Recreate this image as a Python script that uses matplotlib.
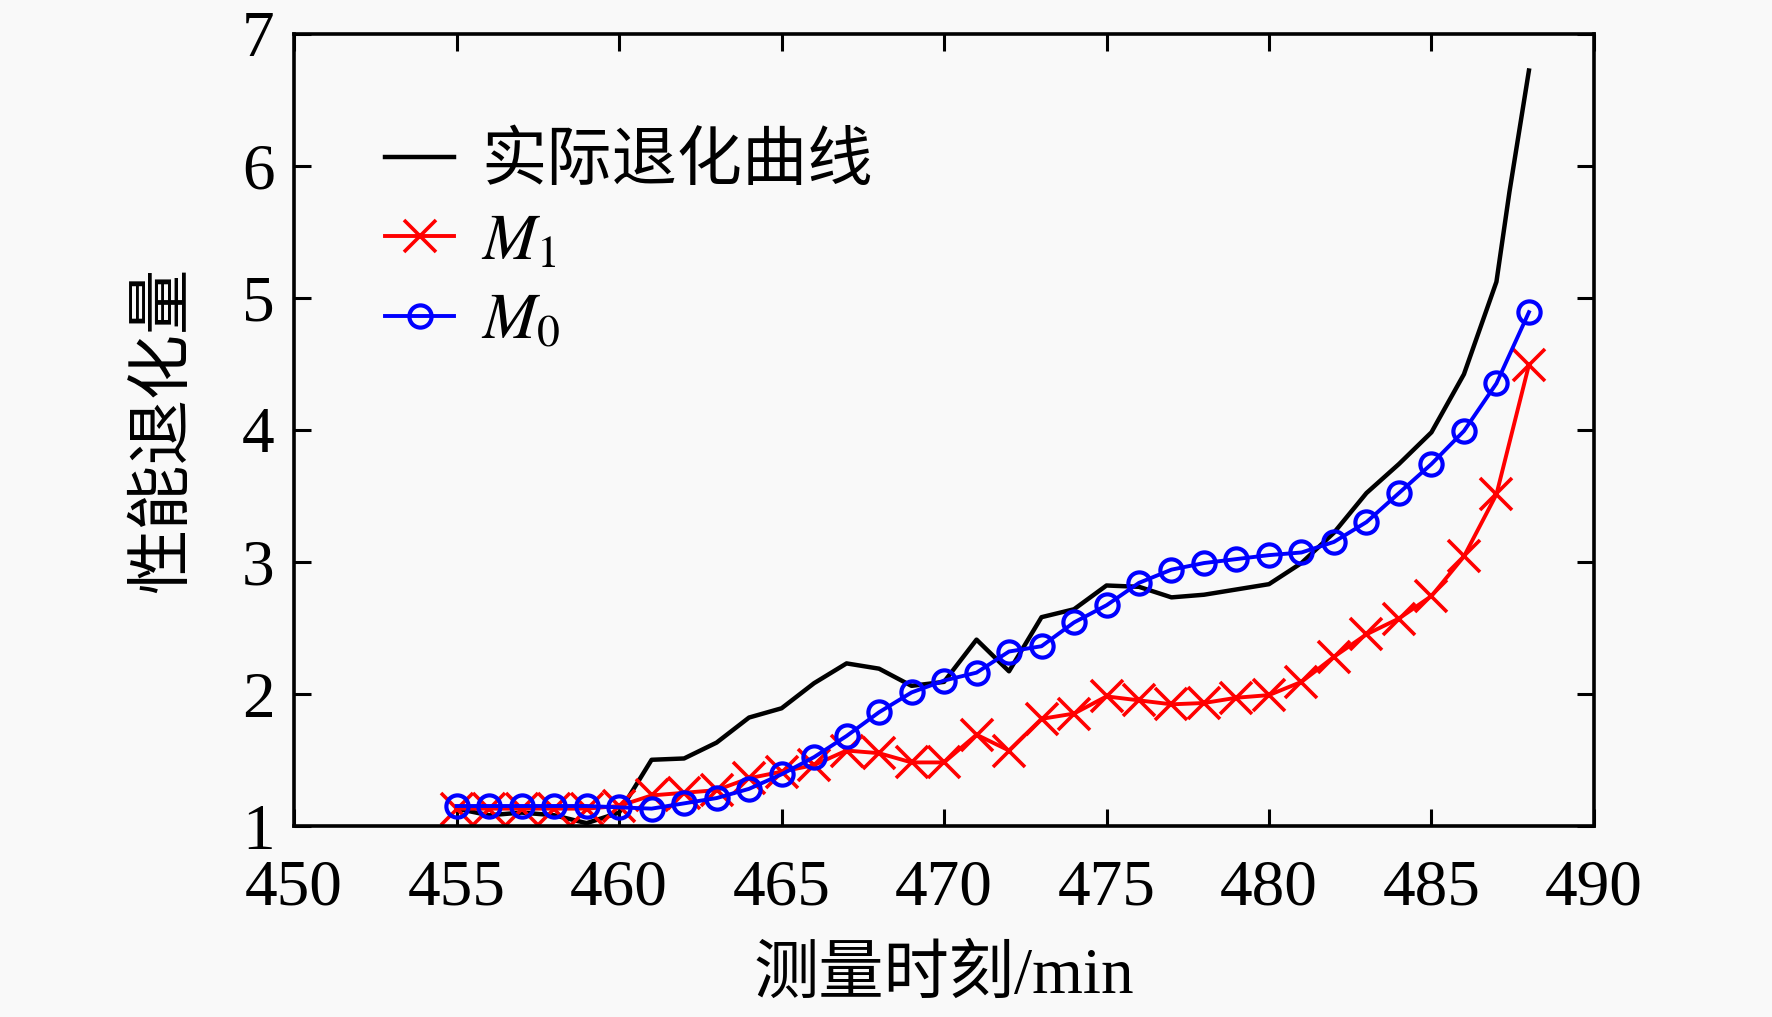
import numpy as np
import matplotlib.pyplot as plt

plt.rcParams['font.family'] = ['Liberation Serif', 'Noto Sans CJK SC']
plt.rcParams['mathtext.fontset'] = 'stix'

# measurement times (min)
times = list(range(455, 489))

# actual degradation curve
actual_t = times[:-1] + [487.4, 488]
actual_y = [1.13, 1.08, 1.10, 1.08, 1.02, 1.10, 1.50, 1.51, 1.63, 1.82,
            1.89, 2.08, 2.23, 2.19, 2.06, 2.09, 2.41, 2.17, 2.58, 2.64,
            2.82, 2.81, 2.73, 2.75, 2.79, 2.83, 2.99, 3.22, 3.52, 3.74,
            3.98, 4.42, 5.12, 5.80, 6.72]

# model M1
m1_y = [1.13, 1.13, 1.13, 1.13, 1.13, 1.15, 1.23, 1.25, 1.27, 1.36,
        1.41, 1.46, 1.57, 1.55, 1.48, 1.48, 1.69, 1.57, 1.81, 1.85,
        1.98, 1.95, 1.92, 1.93, 1.97, 1.99, 2.09, 2.28, 2.45, 2.57,
        2.74, 3.04, 3.51, 4.49]

# model M0
m0_y = [1.15, 1.15, 1.15, 1.15, 1.15, 1.14, 1.13, 1.17, 1.21, 1.28,
        1.39, 1.52, 1.68, 1.86, 2.01, 2.10, 2.16, 2.32, 2.36, 2.54,
        2.67, 2.84, 2.94, 2.99, 3.02, 3.05, 3.07, 3.15, 3.30, 3.52,
        3.74, 3.99, 4.35, 4.89]

labels = ['实际退化曲线', r'$M_1$', r'$M_0$']

fig = plt.figure(figsize=(17.72, 10.17), dpi=100, facecolor='#f9f9f9')
ax = fig.add_axes([0.166, 0.188, 0.7335, 0.779])
ax.set_facecolor('#f9f9f9')

ax.plot(actual_t, actual_y, color='black', lw=3.2, label=labels[0])
ax.plot(times, m1_y, color='red', lw=2.8, marker='x', markersize=23,
        markeredgewidth=2.6, label=labels[1])
ax.plot(times, m0_y, color='blue', lw=2.8, marker='o', markersize=16,
        markerfacecolor='none', markeredgewidth=3.0, label=labels[2])

ax.set_xlim(450, 490)
ax.set_ylim(1, 7)
ax.set_xticks(np.arange(450, 491, 5))
ax.set_yticks(np.arange(1, 8, 1))

ax.tick_params(direction='in', top=True, right=True, length=12, width=2.2,
               labelsize=47)
ax.tick_params(axis='x', pad=24)
ax.tick_params(axis='y', pad=14)
for s in ax.spines.values():
    s.set_linewidth(2.6)

ax.set_xlabel('测量时刻/min', fontsize=47, labelpad=20)
ax.set_ylabel('性能退化量', fontsize=47, labelpad=34)

ax.legend(loc='upper left', bbox_to_anchor=(0.045, 0.915), frameon=False,
          fontsize=47, handlelength=1.05, handletextpad=0.42,
          labelspacing=0.3, borderpad=0)

fig.savefig('out.png', dpi=100, facecolor=fig.get_facecolor())
